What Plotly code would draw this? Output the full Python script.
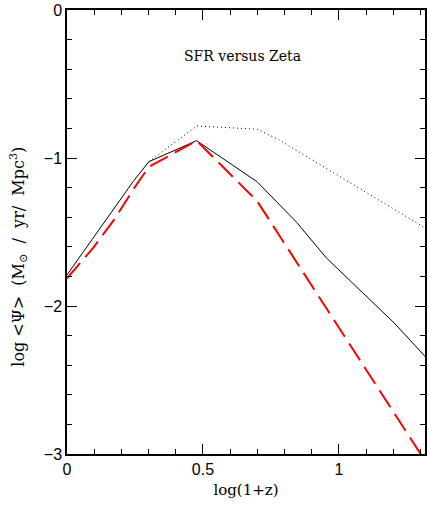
import plotly.graph_objects as go

# log(1+z) sample points and log SFR values
x_solid = [0.0, 0.097, 0.176, 0.243, 0.301, 0.477, 0.699, 0.845, 0.954, 1.204, 1.322]
y_solid = [-1.79, -1.54, -1.335, -1.16, -1.025, -0.883, -1.16, -1.435, -1.675, -2.115, -2.35]

x_dot = [0.301, 0.477, 0.699, 0.778, 0.954, 1.204, 1.322]
y_dot = [-1.025, -0.784, -0.805, -0.875, -1.07, -1.347, -1.478]

x_red = [0.0, 0.097, 0.176, 0.243, 0.301, 0.477, 0.699, 1.322]
y_red = [-1.813, -1.605, -1.41, -1.215, -1.06, -0.883, -1.29, -3.06]

x_ticks = [0, 0.5, 1]
x_ticktext = ["0", "0.5", "1"]
y_ticks = [0, -1, -2, -3]
y_ticktext = ["0", "\u22121", "\u22122", "\u22123"]

fig = go.Figure()
fig.add_trace(go.Scatter(x=x_dot, y=y_dot, mode="lines",
                         line=dict(color="black", width=1, dash="1px,3px")))
fig.add_trace(go.Scatter(x=x_solid, y=y_solid, mode="lines",
                         line=dict(color="black", width=1)))
fig.add_trace(go.Scatter(x=x_red, y=y_red, mode="lines",
                         line=dict(color="red", width=2, dash="20px,8px")))

fig.add_annotation(text="SFR versus Zeta", x=0.49, y=0.92, xref="paper", yref="paper",
                   showarrow=False, font=dict(family="DejaVu Serif", size=14, color="black"))

sp = "\u00a0"
fig.add_annotation(text=f"log{sp}<\u03a8>{sp}{sp}(M<sub>\u2299</sub>{sp}{sp}/{sp}{sp}yr/{sp}{sp}Mpc<sup>3</sup>)",
                   x=-0.136, y=0.445, xref="paper", yref="paper", textangle=-90,
                   xanchor="center", yanchor="middle",
                   showarrow=False, font=dict(family="DejaVu Serif", size=16, color="black"))

axis_common = dict(showline=True, linecolor="black", linewidth=1.5, mirror="ticks",
                   ticks="inside", ticklen=10, tickwidth=1, tickcolor="black",
                   showgrid=False, zeroline=False,
                   tickfont=dict(family="Liberation Sans", size=16, color="black"))

fig.update_xaxes(range=[0, 1.317], tickvals=x_ticks, ticktext=x_ticktext,
                 minor=dict(dtick=0.1, ticks="inside", ticklen=5, tickcolor="black", showgrid=False),
                 title=dict(text="log(1+z)", font=dict(family="DejaVu Serif", size=15, color="black"), standoff=8),
                 **axis_common)
fig.update_yaxes(range=[-3, 0], tickvals=y_ticks, ticktext=y_ticktext,
                 minor=dict(dtick=0.2, ticks="inside", ticklen=5, tickcolor="black", showgrid=False),
                 **axis_common)

fig.update_layout(width=427, height=506, margin=dict(l=67, r=0, t=10, b=52),
                  paper_bgcolor="white", plot_bgcolor="white", showlegend=False)

fig.write_html("out.html")
